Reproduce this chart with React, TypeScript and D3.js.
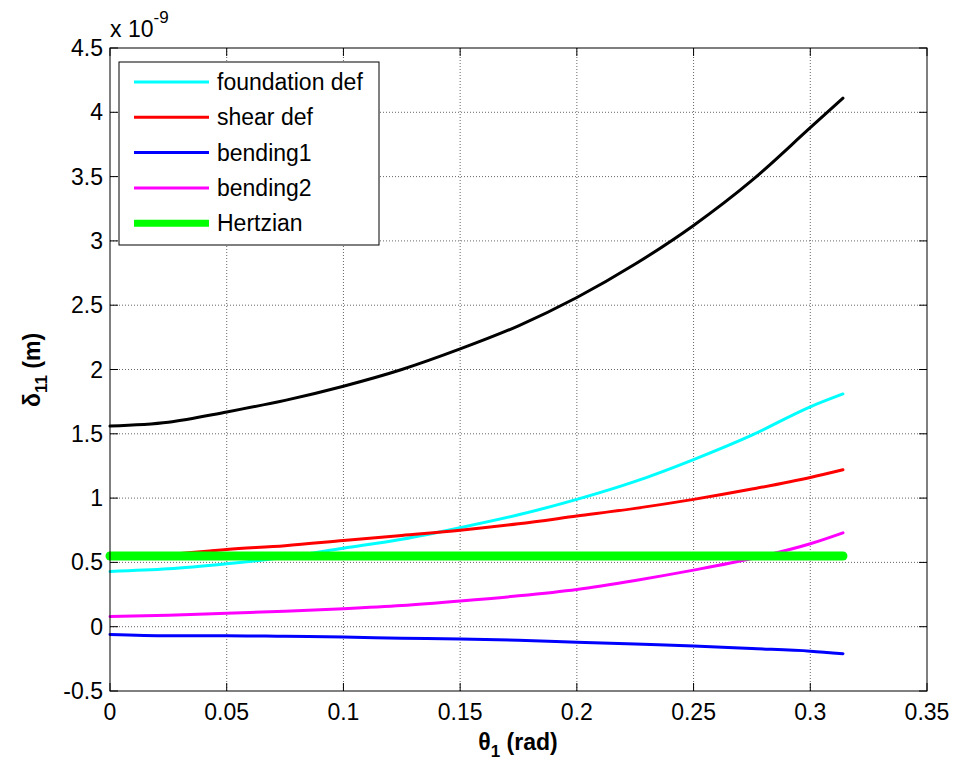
import React from "react";
import * as d3 from "d3";

const theta = [0, 0.025, 0.05, 0.075, 0.1, 0.125, 0.15, 0.175, 0.2, 0.225, 0.25, 0.275, 0.3, 0.314];
const totalDef = [1.56, 1.59, 1.67, 1.76, 1.87, 2.0, 2.16, 2.34, 2.56, 2.82, 3.12, 3.47, 3.88, 4.11];
const foundationDef = [0.43, 0.45, 0.49, 0.54, 0.61, 0.68, 0.77, 0.87, 0.99, 1.13, 1.3, 1.49, 1.71, 1.81];
const shearDef = [0.53, 0.56, 0.6, 0.63, 0.67, 0.71, 0.75, 0.8, 0.86, 0.92, 0.99, 1.07, 1.16, 1.22];
const bending1 = [-0.06, -0.07, -0.07, -0.075, -0.08, -0.09, -0.095, -0.105, -0.12, -0.135, -0.15, -0.17, -0.19, -0.21];
const bending2 = [0.08, 0.09, 0.105, 0.12, 0.14, 0.165, 0.2, 0.24, 0.29, 0.36, 0.44, 0.53, 0.645, 0.73];
const hertzian = [0.55, 0.55, 0.55, 0.55, 0.55, 0.55, 0.55, 0.55, 0.55, 0.55, 0.55, 0.55, 0.55, 0.55];

const xTicks = [0, 0.05, 0.1, 0.15, 0.2, 0.25, 0.3, 0.35];
const xTickLabels = ["0", "0.05", "0.1", "0.15", "0.2", "0.25", "0.3", "0.35"];
const yTicks = [-0.5, 0, 0.5, 1, 1.5, 2, 2.5, 3, 3.5, 4, 4.5];
const yTickLabels = ["-0.5", "0", "0.5", "1", "1.5", "2", "2.5", "3", "3.5", "4", "4.5"];

const legendNames = ["foundation def", "shear def", "bending1", "bending2", "Hertzian"];

const W = 954, H = 767;
const L = 110, R = 927, T = 48, B = 691;
const FONT = "'Liberation Sans', Arial, sans-serif";

export default function App() {
  const x = d3.scaleLinear().domain([0, 0.35]).range([L, R]);
  const y = d3.scaleLinear().domain([-0.5, 4.5]).range([B, T]);
  const line = (vals: number[]) =>
    d3.line<number>().x((_, i) => x(theta[i])).y((v) => y(v)).curve(d3.curveMonotoneX)(vals) || "";

  const series = [
    { vals: foundationDef, color: "#00ffff", w: 3 },
    { vals: shearDef, color: "#ff0000", w: 3 },
    { vals: bending1, color: "#0000ff", w: 3 },
    { vals: bending2, color: "#ff00ff", w: 3 },
    { vals: hertzian, color: "#00ff00", w: 9 },
    { vals: totalDef, color: "#000000", w: 3 },
  ];
  const legendColors = ["#00ffff", "#ff0000", "#0000ff", "#ff00ff", "#00ff00"];
  const legendW = [3, 3, 3, 3, 7];
  const tick = 8;

  return (
    <svg width={W} height={H} style={{ position: "absolute", left: 0, top: 0, background: "#fff" }} fontFamily={FONT}>
      <rect x={0} y={0} width={W} height={H} fill="#fff" />
      {/* grid */}
      {xTicks.slice(1, -1).map((t) => (
        <line key={"gx" + t} x1={x(t)} x2={x(t)} y1={T} y2={B} stroke="#666" strokeWidth={1} strokeDasharray="1,2" />
      ))}
      {yTicks.slice(1, -1).map((t) => (
        <line key={"gy" + t} x1={L} x2={R} y1={y(t)} y2={y(t)} stroke="#666" strokeWidth={1} strokeDasharray="1,2" />
      ))}
      {/* data */}
      {series.map((s, i) => (
        <path key={i} d={line(s.vals)} fill="none" stroke={s.color} strokeWidth={s.w} strokeLinecap="round" strokeLinejoin="round" />
      ))}
      {/* box */}
      <rect x={L} y={T} width={R - L} height={B - T} fill="none" stroke="#000" strokeWidth={1} />
      {/* ticks */}
      {xTicks.map((t) => (
        <g key={"tx" + t}>
          <line x1={x(t)} x2={x(t)} y1={B} y2={B - tick} stroke="#000" />
          <line x1={x(t)} x2={x(t)} y1={T} y2={T + tick} stroke="#000" />
        </g>
      ))}
      {yTicks.map((t) => (
        <g key={"ty" + t}>
          <line x1={L} x2={L + tick} y1={y(t)} y2={y(t)} stroke="#000" />
          <line x1={R} x2={R - tick} y1={y(t)} y2={y(t)} stroke="#000" />
        </g>
      ))}
      {/* tick labels */}
      {xTicks.map((t, i) => (
        <text key={"lx" + t} x={x(t)} y={B + 29} fontSize={23} textAnchor="middle" fill="#000">
          {xTickLabels[i]}
        </text>
      ))}
      {yTicks.map((t, i) => (
        <text key={"ly" + t} x={L - 7} y={y(t) + 8} fontSize={23} textAnchor="end" fill="#000">
          {yTickLabels[i]}
        </text>
      ))}
      {/* exponent */}
      <text x={L} y={37} fontSize={23} fill="#000">
        x 10
        <tspan dy={-14} fontSize={17}>-9</tspan>
      </text>
      {/* axis labels */}
      <text x={518} y={750} fontSize={23} fontWeight="bold" textAnchor="middle" fill="#000">
        θ<tspan dy={7} fontSize={17}>1</tspan>
        <tspan dy={-7}> (rad)</tspan>
      </text>
      <text transform="translate(40,370) rotate(-90)" fontSize={23} fontWeight="bold" textAnchor="middle" fill="#000">
        δ<tspan dy={7} fontSize={17}>11</tspan>
        <tspan dy={-7}> (m)</tspan>
      </text>
      {/* legend */}
      <rect x={119} y={62} width={260} height={183} fill="#fff" stroke="#000" strokeWidth={1} />
      {legendNames.map((n, i) => {
        const cy = 82 + i * 35.3;
        return (
          <g key={n}>
            <line x1={134} x2={209} y1={cy} y2={cy} stroke={legendColors[i]} strokeWidth={legendW[i]} />
            <text x={217} y={cy + 8} fontSize={23} fill="#000">
              {n}
            </text>
          </g>
        );
      })}
    </svg>
  );
}
